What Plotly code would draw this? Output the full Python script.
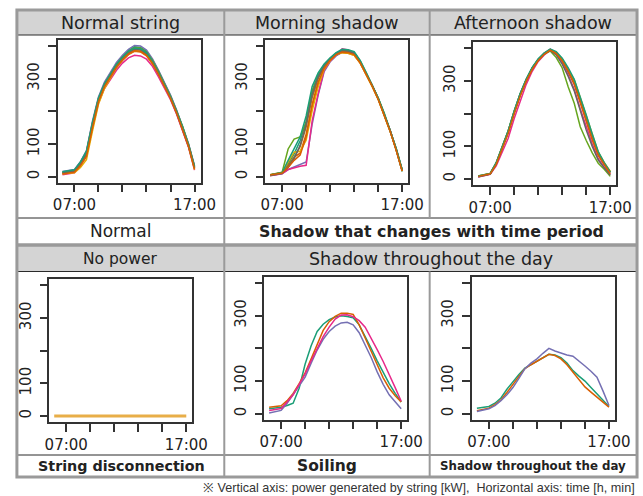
import plotly.graph_objects as go

# ---------------- data ----------------
hours = [6.0, 6.5, 7.0, 7.5, 8.0, 8.5, 9.0, 9.5, 10.0, 10.5, 11.0, 11.5,
         12.0, 12.5, 13.0, 13.5, 14.0, 14.5, 15.0, 15.5, 16.0, 16.5, 17.0]

x_tickvals = [7, 9, 11, 13, 15, 17]
x_ticktext = ["07:00", "", "", "", "", "17:00"]
y_tickvals = [0, 100, 200, 300, 400]
y_ticktext = ["0", "100", "", "300", ""]

# Normal string
normal_series = [
    [14, 16, 20, 44, 76, 166, 240, 286, 318, 346, 368, 386, 398, 396, 384, 358, 324, 288, 248, 203, 155, 100, 32],
    [10, 12, 15, 36, 66, 150, 228, 274, 306, 334, 356, 374, 384, 382, 370, 345, 312, 276, 238, 194, 146, 92, 26],
    [16, 18, 22, 46, 80, 170, 244, 290, 322, 350, 372, 390, 402, 400, 388, 361, 326, 290, 250, 205, 156, 101, 34],
    [6, 8, 12, 34, 64, 148, 226, 270, 300, 326, 348, 364, 372, 370, 360, 338, 306, 272, 236, 192, 144, 90, 20],
    [13, 15, 19, 42, 74, 162, 238, 284, 316, 344, 366, 384, 396, 394, 382, 356, 322, 286, 246, 201, 153, 98, 30],
    [9, 10, 12, 28, 52, 140, 222, 270, 304, 334, 358, 376, 386, 384, 372, 347, 314, 279, 241, 197, 149, 94, 22],
    [12, 14, 18, 40, 70, 158, 234, 280, 312, 340, 362, 380, 392, 390, 378, 352, 318, 282, 243, 198, 150, 95, 28],
    [11, 13, 17, 38, 70, 156, 232, 278, 310, 338, 360, 378, 390, 388, 376, 350, 316, 281, 242, 197, 149, 95, 27],
    [15, 17, 21, 45, 78, 164, 240, 284, 316, 344, 366, 384, 394, 392, 380, 354, 320, 284, 245, 200, 152, 97, 31],
    [8, 10, 14, 34, 62, 150, 230, 276, 308, 336, 358, 376, 386, 384, 372, 348, 314, 278, 240, 196, 147, 93, 24],
]

# Morning shadow
morning_series = [
    [5, 8, 12, 40, 70, 110, 170, 262, 312, 340, 362, 378, 388, 386, 380, 354, 318, 280, 240, 192, 140, 82, 16],
    [6, 9, 12, 30, 60, 72, 130, 212, 282, 330, 356, 372, 380, 378, 372, 348, 314, 277, 238, 190, 139, 82, 18],
    [4, 7, 10, 22, 30, 36, 45, 160, 250, 322, 352, 370, 382, 382, 376, 350, 316, 279, 239, 192, 141, 84, 19],
    [3, 6, 9, 22, 28, 32, 35, 170, 254, 326, 354, 374, 392, 388, 378, 350, 315, 278, 238, 190, 140, 83, 18],
    [6, 10, 14, 85, 115, 122, 165, 262, 305, 342, 362, 376, 384, 384, 380, 354, 318, 281, 241, 194, 143, 86, 21],
    [5, 8, 12, 45, 75, 78, 112, 202, 276, 330, 356, 374, 380, 378, 372, 348, 314, 276, 236, 188, 138, 82, 17],
    [5, 8, 11, 35, 60, 92, 152, 242, 300, 338, 360, 376, 384, 383, 377, 351, 316, 279, 239, 192, 141, 84, 19],
    [4, 7, 10, 30, 55, 96, 160, 252, 305, 340, 362, 378, 386, 385, 379, 352, 317, 280, 240, 193, 142, 85, 20],
    [5, 9, 13, 50, 85, 122, 186, 276, 318, 345, 364, 380, 390, 389, 383, 356, 320, 282, 242, 195, 144, 87, 22],
    [5, 8, 11, 28, 50, 66, 122, 222, 290, 332, 357, 374, 382, 380, 374, 349, 315, 278, 238, 190, 139, 82, 17],
]

# Afternoon shadow
afternoon_series = [
    [9, 13, 17, 50, 98, 148, 208, 262, 305, 340, 366, 385, 396, 384, 360, 326, 292, 238, 180, 124, 74, 44, 20],
    [7, 11, 15, 46, 94, 144, 204, 256, 300, 336, 364, 383, 394, 386, 366, 336, 300, 246, 188, 130, 80, 48, 22],
    [8, 12, 16, 48, 96, 146, 206, 260, 304, 340, 366, 386, 398, 388, 366, 334, 296, 240, 182, 126, 76, 45, 20],
    [6, 10, 14, 40, 80, 125, 185, 240, 290, 330, 360, 380, 394, 382, 355, 318, 275, 215, 160, 108, 62, 36, 14],
    [8, 12, 16, 47, 95, 145, 205, 258, 302, 338, 364, 383, 392, 372, 340, 282, 232, 160, 118, 80, 48, 30, 8],
    [9, 13, 17, 49, 97, 147, 207, 259, 303, 339, 365, 384, 395, 387, 368, 338, 304, 250, 192, 134, 82, 50, 24],
    [8, 12, 16, 48, 96, 146, 206, 260, 304, 340, 366, 385, 396, 386, 364, 332, 295, 240, 184, 128, 78, 46, 21],
    [7, 11, 15, 46, 94, 144, 204, 258, 302, 338, 364, 383, 394, 380, 352, 314, 270, 210, 150, 100, 58, 34, 12],
    [9, 13, 17, 50, 98, 148, 208, 262, 306, 342, 368, 386, 398, 390, 370, 340, 305, 252, 196, 138, 84, 50, 22],
    [8, 12, 16, 45, 90, 140, 200, 254, 300, 336, 363, 382, 395, 384, 362, 330, 290, 232, 175, 120, 72, 42, 16],
]

# No power (string disconnection)
nopower_series = [
    [0, 0, 0, 0, 0, 0, 0, 0, 0, 0, 0, 0, 0, 0, 0, 0, 0, 0, 0, 0, 0, 0, 0],
]

# Soiling
soiling_series = [
    [15, 17, 20, 25, 32, 78, 152, 208, 252, 274, 288, 296, 300, 298, 294, 272, 238, 200, 162, 125, 92, 62, 36],
    [20, 22, 24, 40, 62, 92, 125, 168, 212, 255, 282, 298, 308, 308, 304, 272, 232, 190, 148, 110, 78, 55, 36],
    [2, 6, 10, 32, 58, 88, 112, 155, 195, 228, 252, 268, 278, 280, 272, 248, 210, 172, 128, 90, 58, 36, 15],
    [10, 12, 16, 36, 58, 90, 122, 162, 200, 236, 265, 290, 302, 303, 297, 285, 265, 232, 196, 160, 122, 80, 38],
]
soiling_colors = ["#1B9E77", "#D95F02", "#7570B3", "#E7298A"]

# Shadow throughout the day
allday_series = [
    [17, 19, 22, 32, 48, 75, 98, 120, 140, 150, 160, 170, 182, 180, 172, 155, 132, 115, 100, 80, 60, 40, 22],
    [9, 12, 17, 28, 42, 65, 90, 115, 138, 150, 160, 170, 182, 178, 168, 150, 128, 105, 82, 66, 50, 37, 20],
    [7, 10, 15, 25, 40, 58, 80, 108, 138, 155, 168, 185, 200, 192, 185, 180, 176, 162, 146, 130, 112, 70, 25],
]
allday_colors = ["#1B9E77", "#D95F02", "#7570B3"]

dark2 = ["#1B9E77", "#D95F02", "#7570B3", "#E7298A", "#66A61E", "#E6AB02", "#A6761D", "#666666"]

# ---------------- layout helpers ----------------
REF_W, H = 643, 496
FIG_W = 659            # page is captured at this width and shown at 643
FONT = "DejaVu Sans"
TXT = "#222222"
GRAY = "#9a9a9a"


def fx(p):
    return p / REF_W


def fy(p):
    return 1 - p / H


X_RANGE = [5.6, 17.5]
Y_RANGE = [-18, 420]
PPH = 12.1      # reference pixels per hour
PPU = 0.3265    # reference pixels per kW

# (series, colors, pixel x of 07:00, pixel y of value 0)
panels = [
    (normal_series, dark2, 70.0, 176.7),
    (morning_series, dark2, 279.3, 176.7),
    (afternoon_series, dark2, 489.0, 179.0),
    (nopower_series, ["#E8AE48"], 61.7, 416.0),
    (soiling_series, soiling_colors, 278.3, 413.7),
    (allday_series, allday_colors, 487.7, 413.7),
]

fig = go.Figure()
layout_axes = {}
for i, (series, colors, x07, y0) in enumerate(panels, start=1):
    left = x07 - (7 - X_RANGE[0]) * PPH
    right = x07 + (X_RANGE[1] - 7) * PPH
    bottom = y0 - Y_RANGE[0] * PPU
    top = y0 - Y_RANGE[1] * PPU
    xa = "x" if i == 1 else f"x{i}"
    ya = "y" if i == 1 else f"y{i}"
    for k, vals in enumerate(series):
        fig.add_trace(go.Scatter(
            x=hours, y=vals, mode="lines", xaxis=xa, yaxis=ya,
            line=dict(color=colors[k % len(colors)], width=3 if i == 4 else 1.5),
            showlegend=False, hoverinfo="skip"))
    common = dict(showline=True, mirror=True, linecolor="#333333", linewidth=1.6,
                  ticks="outside", ticklen=8, tickwidth=1.5, tickcolor="#333333",
                  showgrid=False, zeroline=False,
                  tickfont=dict(family=FONT, size=15, color=TXT))
    layout_axes["xaxis" if i == 1 else f"xaxis{i}"] = dict(
        domain=[fx(left), fx(right)], range=X_RANGE, anchor=ya,
        tickmode="array", tickvals=x_tickvals, ticktext=x_ticktext, **common)
    layout_axes["yaxis" if i == 1 else f"yaxis{i}"] = dict(
        domain=[fy(bottom), fy(top)], range=Y_RANGE, anchor=xa,
        tickmode="array", tickvals=y_tickvals, ticktext=y_ticktext,
        tickangle=-90, ticklabelstandoff=3, **common)

# ---------------- table grid ----------------
L, R, T, B = 12, 637, 10, 477
shapes = []


def rect(x0, y0, x1, y1, fill):
    shapes.append(dict(type="rect", xref="paper", yref="paper", layer="below",
                       x0=fx(x0), x1=fx(x1), y0=fy(y1), y1=fy(y0),
                       fillcolor=fill, line=dict(width=0)))


def line(x0, y0, x1, y1, color, width):
    shapes.append(dict(type="line", xref="paper", yref="paper", layer="above",
                       x0=fx(x0), x1=fx(x1), y0=fy(y0), y1=fy(y1),
                       line=dict(color=color, width=width)))


rect(L, T, R, 35, "#d4d4d4")
rect(L, 246, R, 271.5, "#d4d4d4")
for yy in (35, 218, 271.5, 455):
    line(L, yy, R, yy, "#2a2a2a", 1)
line(221, T, 221, B, GRAY, 2)
line(428, T, 428, 218, GRAY, 2)
line(428, 271.5, 428, B, GRAY, 2)
line(L, 245, R, 245, GRAY, 3.5)
shapes.append(dict(type="rect", xref="paper", yref="paper", layer="above",
                   x0=fx(L), x1=fx(R), y0=fy(B), y1=fy(T),
                   line=dict(color=GRAY, width=3)))

# ---------------- texts ----------------
annotations = []


def text(s, x, y, size, bold=False, xanchor="center", color=TXT, family=FONT):
    annotations.append(dict(
        text=f"<b>{s}</b>" if bold else s, x=fx(x), y=fy(y), xref="paper", yref="paper",
        xanchor=xanchor, yanchor="middle", showarrow=False,
        font=dict(family=family, size=size, color=color)))


text("Normal string", 116.5, 23, 17.5)
text("Morning shadow", 324.5, 23, 17.5)
text("Afternoon shadow", 532.5, 23, 17.5)
text("Normal", 116.5, 231, 17)
text("Shadow that changes with time period", 429.5, 231, 15.8, bold=True)
text("No power", 116.5, 259, 15.5)
text("Shadow throughout the day", 429, 259, 17.5)
text("String disconnection", 117.5, 466, 14.3, bold=True)
text("Soiling", 324.5, 466, 15.5, bold=True)
text("Shadow throughout the day", 532.5, 466, 11.8, bold=True)
text("※ Vertical axis: power generated by string [kW],&nbsp; Horizontal axis: time [h, min]",
     637, 488, 12.6, xanchor="right", color="#333333", family="Liberation Sans")

fig.update_layout(
    width=FIG_W, height=H, margin=dict(l=0, r=0, t=0, b=0),
    paper_bgcolor="white", plot_bgcolor="white",
    shapes=shapes, annotations=annotations, showlegend=False,
    **layout_axes)

fig.write_html(
    "out.html",
    config={"displayModeBar": False},
    post_script="document.body.style.margin='0';document.body.style.overflow='hidden';")
